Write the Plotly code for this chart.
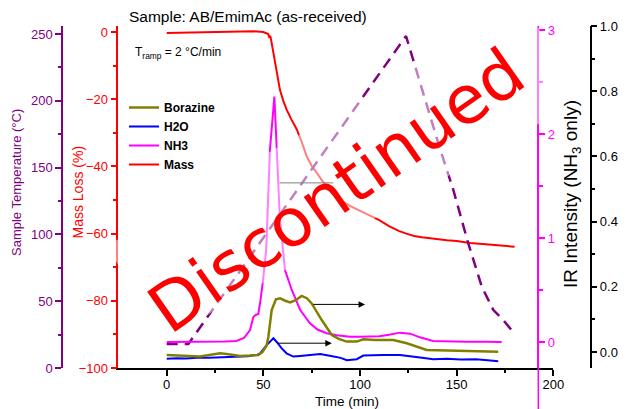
import plotly.graph_objects as go

# ---------------- data ----------------
t_mass = [0, 10, 20, 30, 38, 45, 50, 51.7, 52.5, 53, 53.6, 54.3, 55, 56.9, 58.6, 60.3, 62.1, 64.5, 67.3, 70,
          72.4, 75, 77.6, 80, 83, 86, 89.7, 95, 100, 105, 110, 115, 120, 124, 128, 132, 136, 140, 145,
          150, 157, 165, 172, 180]
mass = [-0.3, -0.2, 0, 0.1, 0.3, 0.2, 0, -0.3, -0.6, -1.5, -1.2, -3.3, -5.4, -12.2, -17.3, -20.5, -23.2, -26,
        -29, -33, -37, -39.8, -42, -44, -46.3, -48.3, -50, -51.8, -53.2, -54.5, -56, -57.8, -59.2, -60,
        -60.7, -61.1, -61.4, -61.7, -62, -62.2, -62.8, -63.2, -63.6, -63.9]

t_temp = [0, 11.2, 123.8, 141.4, 148.3, 156, 163, 169, 174.1, 178.4]
temp = [18, 18, 248.5, 164, 133.2, 93.3, 60.9, 43.4, 35.9, 28.4]

t_nh3 = [0, 10, 20, 30, 36, 40, 43.1, 44.8, 46, 47.4, 48.5, 50, 51.5, 53.4, 55.7, 56.9, 58.5, 61.2, 64.7,
         69, 74.1, 78, 82.8, 88, 94.8, 100, 105, 110, 115, 120.7, 126, 131, 137.8, 145, 155, 165, 173.3]
nh3 = [0, 0, 0.003, 0.005, 0.01, 0.04, 0.115, 0.24, 0.26, 0.27, 0.4, 0.62, 0.9, 1.85, 2.36, 1.85, 1.2,
       0.69, 0.5, 0.31, 0.18, 0.12, 0.084, 0.065, 0.051, 0.05, 0.05, 0.055, 0.07, 0.09, 0.08, 0.045, 0.01,
       0.005, 0.003, 0.003, 0.0]

t_bor = [0, 5, 10, 17.2, 22, 27.6, 32, 37.9, 43, 47.4, 49.5, 51.7, 52.6, 54.3, 56.5, 58.6, 61, 63.8, 66.5,
         69.8, 72.5, 75, 80.2, 85.4, 89, 93.1, 98.3, 101.7, 108, 117.2, 124.2, 130, 134.5, 140, 150, 160, 171.5]
borazine = [-0.009, -0.01, -0.012, -0.014, -0.009, -0.004, -0.007, -0.012, -0.011, -0.009, 0.0, 0.02, 0.047,
            0.129, 0.162, 0.165, 0.158, 0.152, 0.158, 0.172, 0.165, 0.149, 0.098, 0.052, 0.04, 0.032, 0.032,
            0.039, 0.037, 0.037, 0.027, 0.015, 0.006, 0.005, 0.004, 0.003, 0.001]

t_h2o = [0, 5, 10, 17.2, 22, 27.6, 35, 42, 46.7, 48.3, 51.7, 53.5, 55.2, 57, 59.5, 62, 65.5, 69, 74, 79.4,
         85, 90, 93.2, 96, 98.3, 101.7, 106, 112, 120.7, 126, 131.1, 137.9, 145, 152, 160, 166, 171.5]
h2o = [-0.021, -0.019, -0.02, -0.017, -0.018, -0.016, -0.015, -0.013, -0.009, -0.004, 0.021, 0.033, 0.042,
       0.03, 0.011, -0.004, -0.014, -0.012, -0.01, -0.006, -0.012, -0.018, -0.025, -0.023, -0.022, -0.011,
       -0.01, -0.009, -0.009, -0.012, -0.017, -0.022, -0.021, -0.023, -0.022, -0.025, -0.028]

x_ticks = [0, 50, 100, 150, 200]
x_minor = [25, 75, 125, 175]
mass_ticks = [-100, -80, -60, -40, -20, 0]
mass_minor = [-90, -70, -50, -30, -10]
temp_ticks = [0, 50, 100, 150, 200, 250]
temp_minor = [25, 75, 125, 175, 225]
nh3_ticks = [0, 1, 2, 3]
nh3_minor = [0.5, 1.5, 2.5]
ir_ticks = [0, 0.2, 0.4, 0.6, 0.8, 1.0]
ir_minor = [0.1, 0.3, 0.5, 0.7, 0.9]

# arrows (time, value) pairs
bor_arrow = dict(t0=75, t1=102.6, v=0.146)
h2o_arrow = dict(t0=56.5, t1=85.4, v=0.027)
mass_marker = dict(t0=58.3, t1=86.2, v=-44.9)

# ---------------- layout geometry ----------------
W, H = 629, 409
L, R, T, B = 50, 25, 26, 41
PW, PH = W - L - R, H - T - B


def fx(p):
    return (p - L) / PW


def fy(p):
    return (H - B - p) / PH


def yrange(v0, p0, v1, p1):
    s = (v1 - v0) / (p1 - p0)
    return [v0 + s * (H - B - p0), v0 + s * (T - p0)]


FONT = "Arial, Liberation Sans, sans-serif"
PURPLE = "#800080"
RED = "#FF0000"
MAG = "#FF00FF"
OLIVE = "#808000"
BLUE = "#0000FF"

fig = go.Figure()
fig.add_trace(go.Scatter(x=t_temp, y=temp, yaxis="y2", mode="lines", showlegend=False,
                         line=dict(color=PURPLE, width=2.5, dash="11px,7px")))
fig.add_trace(go.Scatter(x=t_mass, y=mass, yaxis="y", mode="lines", name="Mass", legendrank=4,
                         line=dict(color=RED, width=2)))
fig.add_trace(go.Scatter(x=t_nh3, y=nh3, yaxis="y3", mode="lines", name="NH3", legendrank=3,
                         line=dict(color=MAG, width=2)))
fig.add_trace(go.Scatter(x=t_h2o, y=h2o, yaxis="y4", mode="lines", name="H2O", legendrank=2,
                         line=dict(color=BLUE, width=2)))
fig.add_trace(go.Scatter(x=t_bor, y=borazine, yaxis="y4", mode="lines", name="Borazine", legendrank=1,
                         line=dict(color=OLIVE, width=2.5)))


def axis_common(color):
    return dict(showline=True, linecolor=color, linewidth=1.5, ticks="outside", ticklen=6, tickwidth=1.5,
                tickcolor=color, tickfont=dict(family=FONT, size=13, color=color), showgrid=False,
                zeroline=False, fixedrange=True)


xa = axis_common("black")
xa.update(domain=[fx(118.4), fx(553.3)], range=[-25, 200], anchor="y", tickmode="array", tickvals=x_ticks,
          minor=dict(tickmode="array", tickvals=x_minor, ticks="outside", ticklen=3.5, tickwidth=1.5,
                     tickcolor="black"), ticklabelstandoff=-2)

ya = axis_common(RED)
ya.update(range=yrange(0, 32, -100, 368), anchor="x", side="left", tickmode="array", tickvals=mass_ticks,
          minor=dict(tickmode="array", tickvals=mass_minor, ticks="outside", ticklen=4, tickwidth=1.5,
                     tickcolor=RED))

ya2 = axis_common(PURPLE)
ya2.update(range=yrange(0, 368, 250, 34), overlaying="y", anchor="free", position=fx(62), side="left",
           tickmode="array", tickvals=temp_ticks,
           minor=dict(tickmode="array", tickvals=temp_minor, ticks="outside", ticklen=3.5, tickwidth=1.5,
                      tickcolor=PURPLE))

ya3 = axis_common(MAG)
ya3.update(range=yrange(0, 342, 3, 30), overlaying="y", anchor="free", position=fx(538.3), side="right",
           tickmode="array", tickvals=nh3_ticks,
           minor=dict(tickmode="array", tickvals=nh3_minor, ticks="outside", ticklen=4, tickwidth=1.5,
                      tickcolor=MAG))

ya4 = axis_common("black")
ya4.update(range=yrange(0, 352, 1, 26), overlaying="y", anchor="free", position=fx(590.5), side="right",
           tickmode="array", tickvals=ir_ticks, tickformat=".1f",
           minor=dict(tickmode="array", tickvals=ir_minor, ticks="outside", ticklen=4, tickwidth=1.5,
                      tickcolor="black"))

annotations = [
    dict(text="Sample: AB/EmimAc (as-received)", x=fx(247.5), y=fy(17), xref="paper", yref="paper",
         showarrow=False, font=dict(family=FONT, size=15.5, color="black"), xanchor="center", yanchor="middle"),
    dict(text="T<sub>ramp</sub> = 2 °C/min", x=fx(133), y=fy(53), xref="paper", yref="paper",
         showarrow=False, font=dict(family=FONT, size=12, color="black"), xanchor="left", yanchor="middle"),
    dict(text="Sample Temperature (°C)", x=fx(17), y=fy(183), xref="paper", yref="paper", textangle=-90,
         showarrow=False, font=dict(family=FONT, size=13, color=PURPLE), xanchor="center", yanchor="middle"),
    dict(text="Mass Loss (%)", x=fx(77), y=fy(192.5), xref="paper", yref="paper", textangle=-90,
         showarrow=False, font=dict(family=FONT, size=14, color=RED), xanchor="center", yanchor="middle"),
    dict(text="IR Intensity (NH<sub>3</sub> only)", x=fx(572), y=fy(194), xref="paper", yref="paper",
         textangle=-90, showarrow=False, font=dict(family=FONT, size=19, color="black"),
         xanchor="center", yanchor="middle"),
    dict(text="Time (min)", x=fx(346.7), y=fy(401), xref="paper", yref="paper", showarrow=False,
         font=dict(family=FONT, size=13.5, color="black"), xanchor="center", yanchor="middle"),
]
for a in (bor_arrow, h2o_arrow):
    annotations.append(dict(x=a["t1"], y=a["v"], xref="x", yref="y4", ax=a["t0"], ay=a["v"], axref="x",
                            ayref="y4", text="", showarrow=True, arrowhead=2, arrowsize=1.3, arrowwidth=1,
                            arrowcolor="black", standoff=0, startstandoff=0))
annotations.append(dict(text="Discontinued", x=fx(336), y=fy(191), xref="paper", yref="paper",
                        textangle=-35, showarrow=False, xanchor="center", yanchor="middle",
                        font=dict(family="DejaVu Sans, Verdana, sans-serif", size=67, color=RED)))

# translucent white band behind the watermark (pixel corners of a rotated rectangle)
band_px = [(107, 245.7), (525, 4.7), (580, 100), (162, 341)]
band_path = "M " + " L ".join(f"{fx(px):.5f},{fy(py):.5f}" for px, py in band_px) + " Z"

shapes = [
    dict(type="line", xref="x", yref="y", x0=mass_marker["t0"], x1=mass_marker["t1"], y0=mass_marker["v"],
         y1=mass_marker["v"], line=dict(color="black", width=1), layer="above"),
    dict(type="line", xref="paper", yref="paper", x0=fx(538.3), x1=fx(538.3), y0=0, y1=fy(409),
         line=dict(color=MAG, width=1.5), layer="above"),
    dict(type="path", xref="paper", yref="paper", path=band_path, fillcolor="rgba(255,255,255,0.5)",
         line=dict(width=0), layer="above"),
]

fig.update_layout(
    width=W, height=H, margin=dict(l=L, r=R, t=T, b=B, pad=0),
    paper_bgcolor="white", plot_bgcolor="rgba(0,0,0,0)",
    xaxis=xa, yaxis=ya, yaxis2=ya2, yaxis3=ya3, yaxis4=ya4,
    annotations=annotations, shapes=shapes,
    legend=dict(x=fx(124), y=fy(93), xanchor="left", yanchor="top", bgcolor="rgba(0,0,0,0)",
                font=dict(family=FONT, size=12, color="black", weight="bold"), itemwidth=30,
                tracegroupgap=0, borderwidth=0),
    font=dict(family=FONT),
)

fig.write_html("out.html")
